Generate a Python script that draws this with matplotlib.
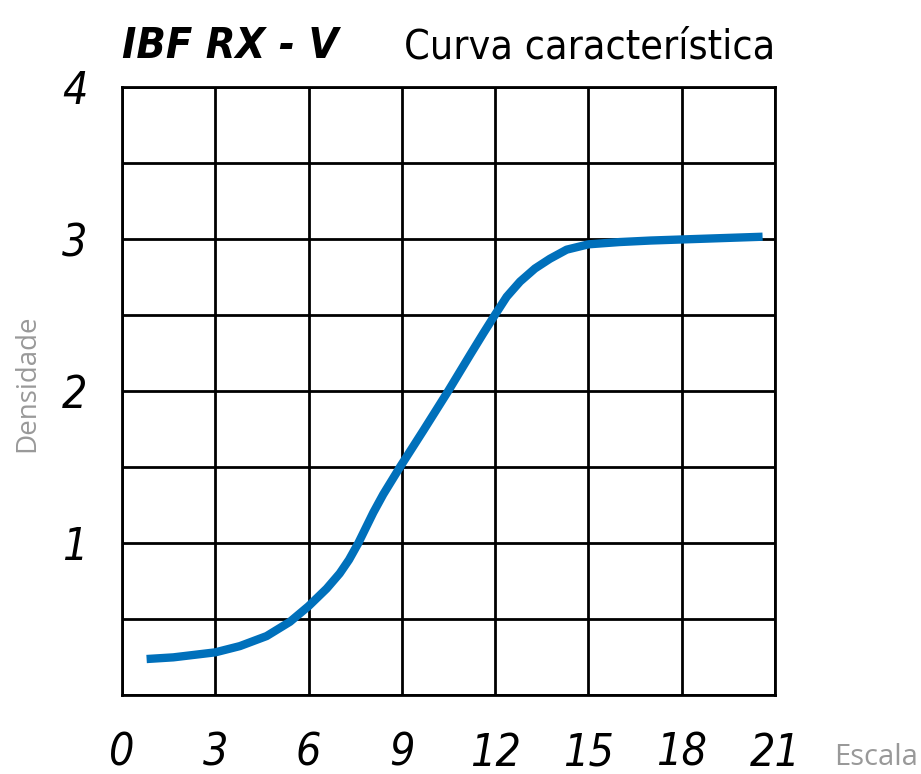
import matplotlib
matplotlib.use("Agg")
import matplotlib.pyplot as plt

# values
escala = [0.79, 1.65, 3.0, 3.79, 4.65, 5.4, 6.0, 6.58, 7.0, 7.3, 7.6, 8.08, 8.4,
          8.94, 9.69, 10.49, 11.2, 11.62, 11.99, 12.37, 12.8, 13.28, 13.76,
          14.3, 15.0, 16.0, 17.0, 18.0, 20.6]
densidade = [0.237, 0.248, 0.281, 0.322, 0.388, 0.482, 0.585, 0.70, 0.8, 0.89,
             1.0, 1.2, 1.32, 1.5, 1.74, 2.0, 2.24, 2.38, 2.5, 2.62, 2.72, 2.806,
             2.87, 2.93, 2.965, 2.98, 2.99, 2.997, 3.015]

x_ticks = [0, 3, 6, 9, 12, 15, 18, 21]
y_ticks = [1, 2, 3, 4]
title_left = "IBF RX - V"
title_right = "Curva característica"

fig = plt.figure(figsize=(9.21, 7.74), dpi=100)
ax = fig.add_axes([0.1325, 0.102, 0.709, 0.7856])

ax.plot(escala, densidade, color="#0070bb", lw=6, solid_capstyle="butt",
        solid_joinstyle="round", zorder=3)

ax.set_xlim(0, 21)
ax.set_ylim(0, 4)
ax.set_xticks(range(0, 22, 3))
ax.set_yticks([i * 0.5 for i in range(9)])
ax.grid(True, color="black", lw=2)
ax.set_axisbelow(True)
for s in ax.spines.values():
    s.set_color("black")
    s.set_linewidth(2)
ax.tick_params(length=0, labelbottom=False, labelleft=False)

tick_font = dict(family="DejaVu Sans", stretch="condensed", style="italic",
                 fontsize=32, color="black")
for v in x_ticks:
    ax.text(v, -0.24, str(v), ha="center", va="top", clip_on=False, **tick_font)
for v in y_ticks:
    ax.text(-1.1, v - 0.03, str(v), ha="right", va="center", clip_on=False, **tick_font)

fig.text(0.906, 0.012, "Escala", family="Open Sans", fontsize=21, color="#999999",
         ha="left", va="baseline")
fig.text(0.03, 0.505, "Densidade", family="Open Sans", fontsize=20, color="#999999",
         rotation=90, ha="center", va="center")

fig.text(0.1325, 0.925, title_left, family="DejaVu Sans", stretch="condensed",
         weight="bold", style="italic", fontsize=31, ha="left", va="baseline")
fig.text(0.8415, 0.925, title_right, family="DejaVu Sans", stretch="condensed",
         fontsize=29.5, ha="right", va="baseline")

fig.savefig("out.png", dpi=100)
